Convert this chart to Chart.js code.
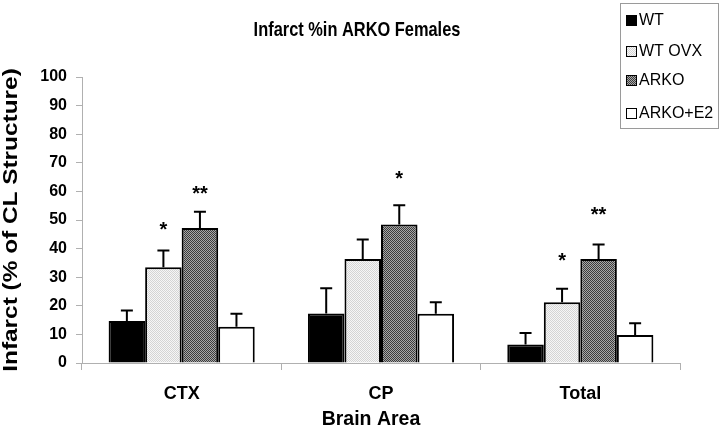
<!DOCTYPE html>
<html>
<head>
<meta charset="utf-8">
<script src="https://cdn.jsdelivr.net/npm/chart.js@4.4.1/dist/chart.umd.min.js"></script>
<style>
html,body{margin:0;padding:0;background:#fff;}
#wrap{width:720px;height:428px;position:relative;}
</style>
</head>
<body>
<div id="wrap"><canvas id="c" width="720" height="428"></canvas></div>
<script>
// ---- data ----
const categories = ['CTX', 'CP', 'Total'];
const seriesNames = ['WT', 'WT OVX', 'ARKO', 'ARKO+E2'];
const wtMean = [14.7, 17.3, 6.5];
const wtSem = [3.7, 8.8, 4.0];
const wtOvxMean = [33.5, 36.4, 21.2];
const wtOvxSem = [5.8, 6.8, 4.8];
const arkoMean = [47.2, 48.4, 36.4];
const arkoSem = [5.7, 6.8, 5.0];
const arkoE2Mean = [12.7, 17.2, 9.8];
const arkoE2Sem = [4.5, 4.0, 4.1];
const wtOvxStars = ['*', '', '*'];
const wtOvxStarLevel = [48.3, 0, 37.4];
const arkoStars = ['**', '*', '**'];
const arkoStarLevel = [61, 66, 53.5];
const yTicks = [0, 10, 20, 30, 40, 50, 60, 70, 80, 90, 100];

const FONT = '"Liberation Sans", Arial, sans-serif';

function makePattern(a, b) {
  const p = document.createElement('canvas');
  p.width = 2; p.height = 2;
  const g = p.getContext('2d');
  g.fillStyle = a; g.fillRect(0, 0, 2, 2);
  g.fillStyle = b; g.fillRect(0, 0, 1, 1); g.fillRect(1, 1, 1, 1);
  return document.getElementById('c').getContext('2d').createPattern(p, 'repeat');
}
const fills = [
  '#000000',
  makePattern('#f6f6f6', '#d4d4d4'),
  makePattern('#a8a8a8', '#3c3c3c'),
  '#ffffff'
];
const means = [wtMean, wtOvxMean, arkoMean, arkoE2Mean];
const sems = [wtSem, wtOvxSem, arkoSem, arkoE2Sem];
const stars = [null, {s: wtOvxStars, v: wtOvxStarLevel}, {s: arkoStars, v: arkoStarLevel}, null];

const datasets = seriesNames.map((n, i) => ({
  label: n,
  data: means[i],
  sem: sems[i],
  backgroundColor: fills[i],
  borderColor: '#000',
  borderWidth: 2,
  borderSkipped: 'bottom',
  categoryPercentage: 0.733,
  barPercentage: 1.0
}));

const overlay = {
  id: 'overlay',
  afterDatasetsDraw(chart) {
    const ctx = chart.ctx;
    const y = chart.scales.y;
    ctx.save();
    chart.data.datasets.forEach((ds, di) => {
      const meta = chart.getDatasetMeta(di);
      meta.data.forEach((bar, j) => {
        const top = y.getPixelForValue(ds.data[j] + ds.sem[j]);
        const base = y.getPixelForValue(ds.data[j]);
        ctx.strokeStyle = '#000';
        ctx.lineWidth = 2;
        ctx.beginPath();
        ctx.moveTo(bar.x, base);
        ctx.lineTo(bar.x, top);
        ctx.moveTo(bar.x - 6, top);
        ctx.lineTo(bar.x + 6, top);
        ctx.stroke();
        const st = stars[di];
        if (st && st.s[j]) {
          ctx.fillStyle = '#000';
          ctx.font = 'bold 20px ' + FONT;
          ctx.textAlign = 'center';
          ctx.textBaseline = 'alphabetic';
          ctx.fillText(st.s[j], bar.x, y.getPixelForValue(st.v[j]) + 11);
        }
      });
    });
    ctx.restore();
  },
  afterDraw(chart) {
    const ctx = chart.ctx;
    ctx.save();
    ctx.fillStyle = '#000';
    ctx.textAlign = 'center';
    ctx.textBaseline = 'alphabetic';
    // title (slightly tall glyphs)
    ctx.save();
    ctx.translate(357, 35.7);
    ctx.scale(1, 1.19);
    ctx.font = 'bold 16.4px ' + FONT;
    ctx.fillText('Infarct %in ARKO Females', 0, 0);
    ctx.restore();
    // x title
    ctx.font = 'bold 19.5px ' + FONT;
    ctx.fillText('Brain Area', 371, 424.5);
    // y title
    ctx.save();
    ctx.translate(11, 220);
    ctx.rotate(-Math.PI / 2);
    ctx.scale(1, 0.82);
    ctx.textBaseline = 'middle';
    ctx.font = 'bold 24.4px ' + FONT;
    ctx.fillText('Infarct (% of CL Structure)', 0, 0);
    ctx.restore();
    // legend
    ctx.strokeStyle = '#9a9a9a';
    ctx.lineWidth = 1;
    ctx.strokeRect(620.5, 3.5, 98, 125);
    const ys = [20, 51, 80, 113];
    ctx.font = '16px ' + FONT;
    ctx.textAlign = 'left';
    ctx.textBaseline = 'middle';
    chart.data.datasets.forEach((ds, i) => {
      ctx.fillStyle = ds.backgroundColor;
      ctx.fillRect(626, ys[i] - 5, 11, 11);
      ctx.strokeStyle = '#000';
      ctx.strokeRect(626.5, ys[i] - 4.5, 10, 10);
      ctx.fillStyle = '#000';
      ctx.fillText(ds.label, 639, ys[i] + 1);
    });
    ctx.restore();
  }
};

new Chart(document.getElementById('c'), {
  type: 'bar',
  data: { labels: categories, datasets },
  options: {
    responsive: false,
    animation: false,
    layout: { padding: { left: 0, right: 40, top: 77, bottom: 0 } },
    plugins: { legend: { display: false }, title: { display: false }, tooltip: { enabled: false } },
    scales: {
      x: {
        grid: { display: true, drawOnChartArea: false, offset: true, tickLength: 7, color: '#b0b0b0' },
        border: { color: '#b0b0b0', width: 1 },
        ticks: { color: '#000', font: { family: FONT, size: 18, weight: 'bold' }, padding: 13 },
        afterFit(s) { s.height = 65; }
      },
      y: {
        min: 0, max: 100,
        afterBuildTicks(s) { s.ticks = yTicks.map(v => ({ value: v })); },
        grid: { display: true, drawOnChartArea: false, tickLength: 6, color: '#b0b0b0' },
        border: { color: '#b0b0b0', width: 1 },
        ticks: { color: '#000', font: { family: FONT, size: 16, weight: 'bold' }, padding: 9 },
        afterFit(s) { s.width = 82; }
      }
    }
  },
  plugins: [overlay]
});
</script>
</body>
</html>
